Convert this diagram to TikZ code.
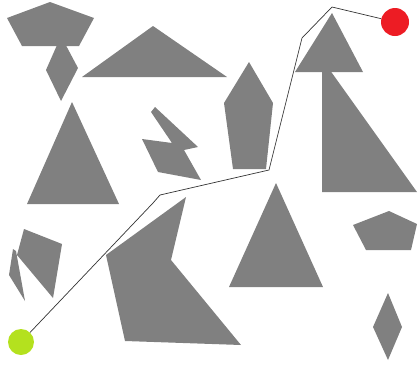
\documentclass[tikz,border=0pt]{standalone}
\begin{document}
\begin{tikzpicture}[x=1pt,y=-1pt,
  obst/.style={fill=obstgray, draw=none},
  route/.style={draw=black!80, line width=0.7pt},
  endpt/.style={circle, draw=none, inner sep=0pt}]
\definecolor{obstgray}{RGB}{128,128,128}
\definecolor{startgreen}{RGB}{180,225,30}
\definecolor{goalred}{RGB}{237,28,36}
\useasboundingbox (0,0) rectangle (418,365);
% obstacles
\fill[obst] (50,2) -- (94,18) -- (79,46) -- (22,46) -- (7,18) -- cycle;
\fill[obst] (61,36) -- (78,68) -- (61,101) -- (46,70) -- cycle;
\fill[obst] (153,26) -- (227,77) -- (82,77) -- cycle;
\fill[obst] (72,102) -- (119,204) -- (27,204) -- cycle;
\fill[obst] (249,62) -- (273,103) -- (266,169) -- (233,169) -- (224,103) -- cycle;
\fill[obst] (151,112) -- (155,107) -- (198,147) -- (184,150) -- (201,180) -- (158,172) -- (142,139) -- (172,143) -- cycle;
\fill[obst] (322,59) -- (417,192) -- (322,192) -- cycle;
\fill[obst] (332,13) -- (363,72) -- (295,72) -- cycle;
\fill[obst] (24,229) -- (62,244) -- (53,298) -- (17,255) -- cycle;
\fill[obst] (13,249) -- (16,251) -- (25,301) -- (9,275) -- cycle;
\fill[obst] (186,197) -- (171,260) -- (241,345) -- (125,341) -- (106,255) -- cycle;
\fill[obst] (276,183) -- (323,287) -- (229,287) -- cycle;
\fill[obst] (389,211) -- (417,224) -- (411,250) -- (366,250) -- (353,225) -- cycle;
\fill[obst] (388,293) -- (402,327) -- (388,360) -- (373,327) -- cycle;
% endpoints
\node[endpt, minimum size=26pt, fill=startgreen] (start) at (21,342) {};
\node[endpt, minimum size=28pt, fill=goalred] (goal) at (395,22) {};
% route
\coordinate (p1) at (153,203);
\coordinate (p2) at (160,195);
\coordinate (p3) at (269,170);
\coordinate (p4) at (302,38);
\coordinate (p5) at (332,7);
\draw[route] (start) -- (p1) -- (p2) -- (p3) -- (p4) -- (p5) -- (goal);
\end{tikzpicture}
\end{document}
